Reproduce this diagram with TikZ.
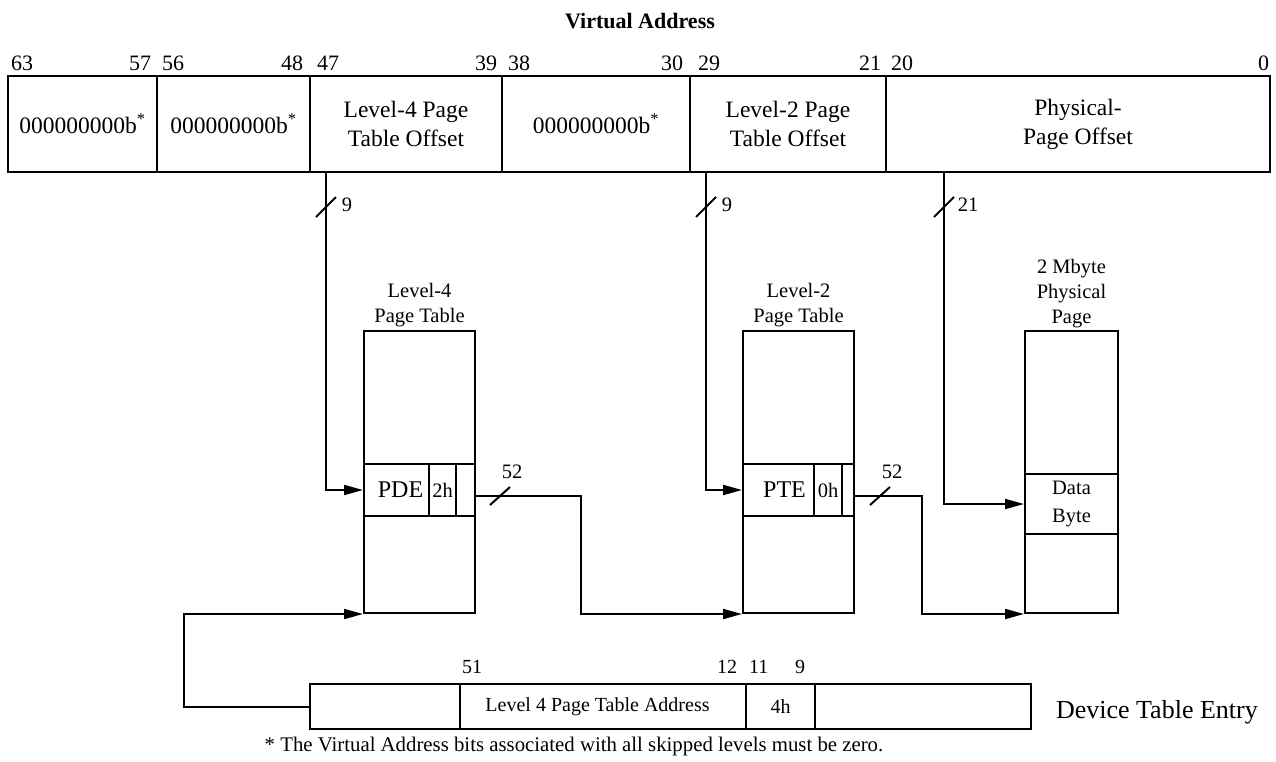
\documentclass[tikz,border=0pt]{standalone}
\usepackage{fontspec}
\setmainfont{Liberation Serif}
\usetikzlibrary{arrows.meta}
\begin{document}
\begin{tikzpicture}[x=1pt,y=-1pt,line width=2pt,
  cell/.style={draw,inner sep=0pt,align=center},
  field/.style={cell,minimum height=96pt,font=\fontsize{23.5}{29}\selectfont},
  bitnum/.style={inner sep=0pt,font=\fontsize{22}{26}\selectfont},
  sm/.style={inner sep=0pt,font=\fontsize{20.5}{25}\selectfont,align=center},
  arr/.style={-{Triangle[length=19pt,width=10pt]}},
  slash/.style={line width=2pt}]
\fill[white] (0,0) rectangle (1276,761);
\useasboundingbox (0,0) rectangle (1276,761);
% title
\node[inner sep=0pt,anchor=base,font=\bfseries\fontsize{22}{26}\selectfont] (title) at (640,28) {Virtual Address};
% virtual address fields
\node[field,minimum width=149pt] (v1) at (82.5,124) {000000000b\textsuperscript{*}};
\node[field,minimum width=153pt] (v2) at (233.5,124) {000000000b\textsuperscript{*}};
\node[field,minimum width=192pt] (v3) at (406,124) {Level-4 Page\\Table Offset};
\node[field,minimum width=188pt] (v4) at (596,124) {000000000b\textsuperscript{*}};
\node[field,minimum width=196pt] (v5) at (788,124) {Level-2 Page\\Table Offset};
\node[field,minimum width=384pt] (v6) at (1078,124) {Physical-\\Page Offset};
% bit numbers
\node[bitnum,anchor=base west] (b63) at (10,70) {63};
\node[bitnum,anchor=base east] (b57) at (152,70) {57};
\node[bitnum,anchor=base west] (b56) at (161,70) {56};
\node[bitnum,anchor=base east] (b48) at (304,70) {48};
\node[bitnum,anchor=base west] (b47) at (316,70) {47};
\node[bitnum,anchor=base east] (b39) at (498,70) {39};
\node[bitnum,anchor=base west] (b38) at (507,70) {38};
\node[bitnum,anchor=base east] (b30) at (684,70) {30};
\node[bitnum,anchor=base west] (b29) at (697,70) {29};
\node[bitnum,anchor=base east] (b21) at (882,70) {21};
\node[bitnum,anchor=base west] (b20) at (890,70) {20};
\node[bitnum,anchor=base east] (b0) at (1270,70) {0};
% level-4 table
\node[cell,minimum width=111pt,minimum height=282pt] (t4) at (419.5,472) {};
\node[cell,minimum width=65pt,minimum height=52pt,font=\fontsize{24}{28}\selectfont] (pde) at (396.5,490) {\hspace*{8pt}PDE};
\node[cell,minimum width=27pt,minimum height=52pt,font=\fontsize{20.5}{24}\selectfont] (c2h) at (442.5,490) {2h};
\node[cell,minimum width=19pt,minimum height=52pt] (e4) at (465.5,490) {};
\node[sm,anchor=base] (l4lbl) at (419.5,322) {Level-4\\Page Table};
% level-2 table
\node[cell,minimum width=111pt,minimum height=282pt] (t2) at (798.5,472) {};
\node[cell,minimum width=71pt,minimum height=52pt,font=\fontsize{24}{28}\selectfont] (pte) at (778.5,490) {\hspace*{12pt}PTE};
\node[cell,minimum width=28pt,minimum height=52pt,font=\fontsize{20.5}{24}\selectfont] (c0h) at (828,490) {0h};
\node[cell,minimum width=12pt,minimum height=52pt] (e2) at (848,490) {};
\node[sm,anchor=base] (l2lbl) at (798.5,322) {Level-2\\Page Table};
% physical page
\node[cell,minimum width=93pt,minimum height=282pt] (pp) at (1071.5,472) {};
\node[cell,minimum width=93pt,minimum height=60pt,font=\fontsize{20.5}{28}\selectfont] (data) at (1071.5,504) {Data\\Byte};
\node[sm,anchor=base] (pplbl) at (1071.5,323) {2 Mbyte\\Physical\\Page};
% connectors from virtual address
\coordinate (s4) at (326,172);
\coordinate (s2) at (706,172);
\coordinate (sp) at (944,172);
\draw[arr] (s4) |- (pde.west);
\draw[arr] (s2) |- (pte.west);
\draw[arr] (sp) |- (data.west);
\draw[slash] (316,217) -- (336,197);
\draw[slash] (696,217) -- (716,197);
\draw[slash] (934,217) -- (954,197);
\node[sm] (n9a) at (347,205) {9};
\node[sm] (n9b) at (727,205) {9};
\node[sm] (n21) at (968,205) {21};
% table outputs
\coordinate (o4) at (475,496);
\coordinate (o2) at (854,496);
\draw[arr] (o4) -- (581,496) |- (t2.south west);
\draw[arr] (o2) -- (922,496) |- (pp.south west);
\draw[slash] (490,505) -- (510,487);
\draw[slash] (870,505) -- (890,487);
\node[sm] (n52a) at (512,472) {52};
\node[sm] (n52b) at (892,472) {52};
% device table entry
\node[cell,minimum width=150pt,minimum height=45pt] (d1) at (385,706.5) {};
\node[cell,minimum width=286pt,minimum height=45pt,font=\fontsize{20}{24}\selectfont] (d2) at (603,706.5) {Level 4 Page Table Address\hspace*{11pt}};
\node[cell,minimum width=69pt,minimum height=45pt,font=\fontsize{20}{24}\selectfont] (d3) at (780.5,706.5) {4h};
\node[cell,minimum width=216pt,minimum height=45pt] (d4) at (923,706.5) {};
\node[bitnum,font=\fontsize{20}{24}\selectfont,anchor=base west] (b51) at (461,673) {51};
\node[bitnum,font=\fontsize{20}{24}\selectfont,anchor=base east] (b12) at (738,673) {12};
\node[bitnum,font=\fontsize{20}{24}\selectfont,anchor=base west] (b11) at (748,673) {11};
\node[bitnum,font=\fontsize{20}{24}\selectfont,anchor=base] (b9) at (800,673) {9};
\node[inner sep=0pt,anchor=base west,font=\fontsize{26}{30}\selectfont] (dtelbl) at (1055,718) {Device Table Entry};
\draw[arr] (d1.west) -- (184,706.5) |- (t4.south west);
% footnote
\node[inner sep=0pt,anchor=base,font=\fontsize{20.8}{24}\selectfont] (foot) at (574,751) {* The Virtual Address bits associated with all skipped levels must be zero.};
\end{tikzpicture}
\end{document}
